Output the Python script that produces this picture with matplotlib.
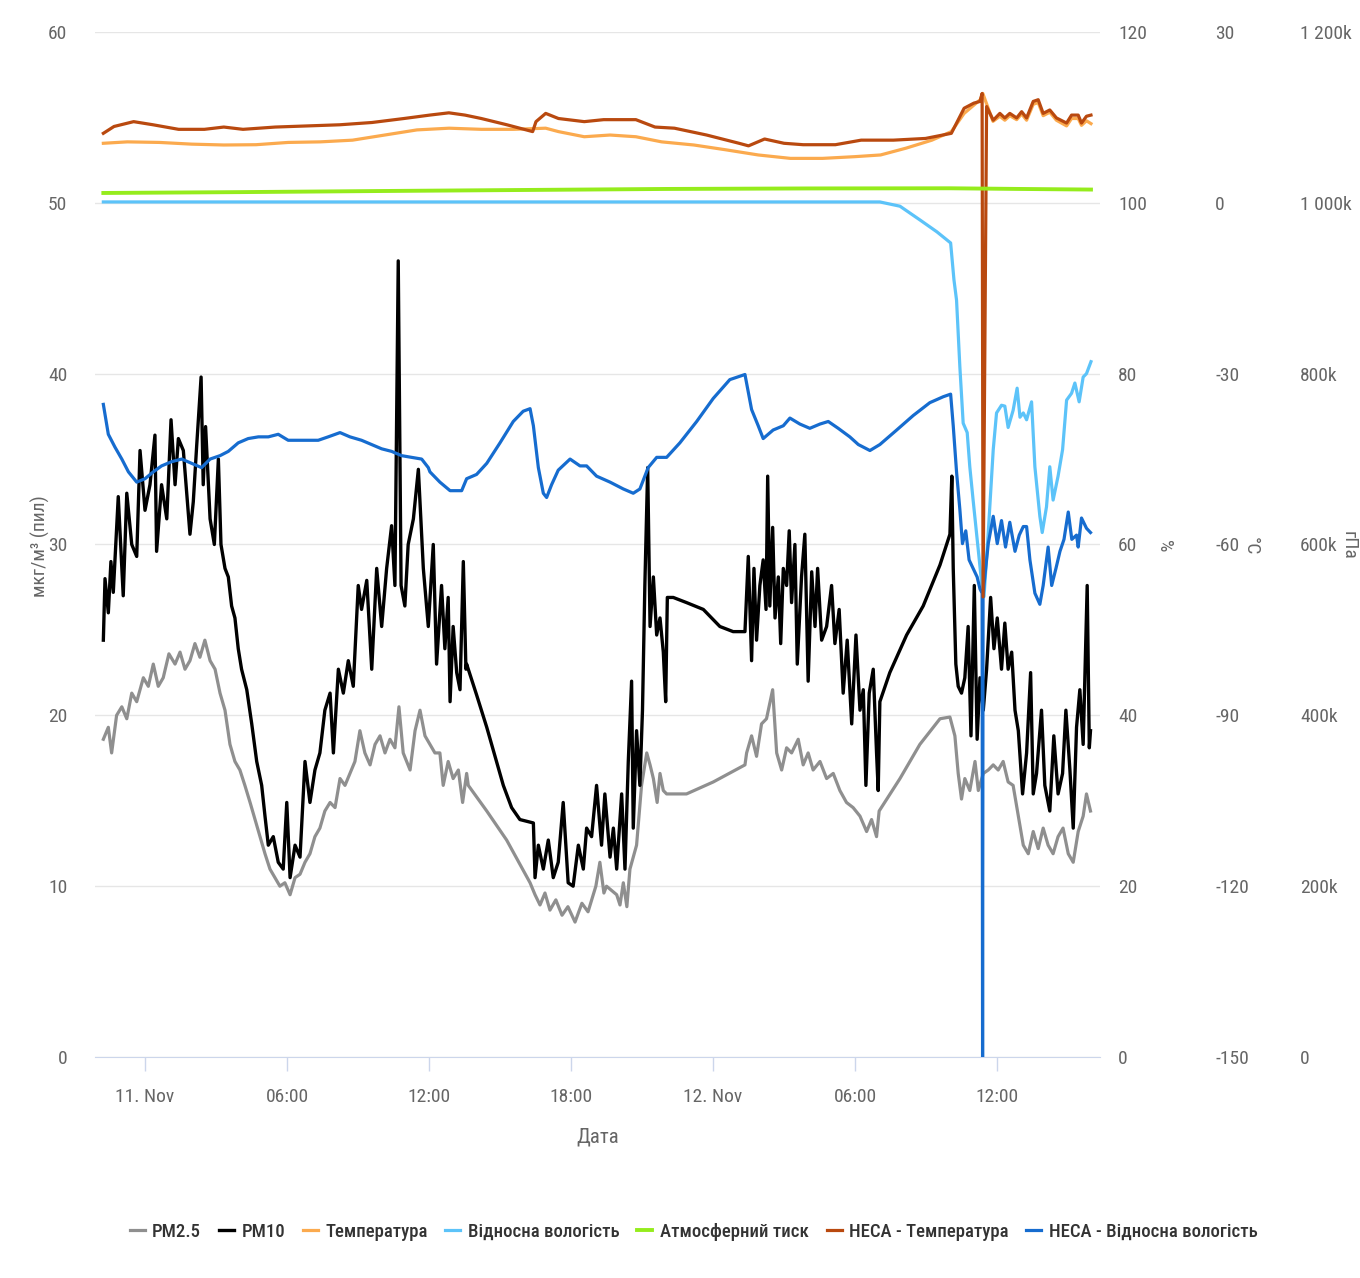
import matplotlib
matplotlib.use("Agg")
import matplotlib.pyplot as plt

plt.rcParams['font.family'] = ['Roboto Condensed', 'Roboto', 'DejaVu Sans']
plt.rcParams['axes.unicode_minus'] = False

# hours since 11 Nov 00:00
pm10_hours = [-1.76, -1.69, -1.55, -1.44, -1.34, -1.13, -0.92, -0.77, -0.56, -0.35, -0.21, 0.0, 0.21, 0.42, 0.49,
              0.70, 0.92, 1.10, 1.27, 1.41, 1.62, 1.90, 2.04, 2.18, 2.37, 2.46, 2.56, 2.75, 2.93, 3.10, 3.21, 3.38,
              3.52, 3.66, 3.80, 3.94, 4.08, 4.30, 4.51, 4.72, 4.93, 5.07, 5.21, 5.42, 5.63, 5.84, 5.99, 6.13, 6.34,
              6.55, 6.76, 6.97, 7.18, 7.39, 7.60, 7.82, 7.96, 8.17, 8.38, 8.59, 8.80, 9.01, 9.15, 9.37, 9.58, 9.79,
              10.00, 10.21, 10.42, 10.56, 10.70, 10.82, 10.98, 11.12, 11.34, 11.55, 11.76, 11.97, 12.18, 12.32,
              12.53, 12.67, 12.81, 12.89, 13.02, 13.17, 13.31, 13.45, 13.56, 13.59, 14.01, 14.44, 14.79, 15.14,
              15.49, 15.84, 16.41, 16.48, 16.62, 16.83, 17.04, 17.25, 17.46, 17.67, 17.88, 18.09, 18.31, 18.52,
              18.66, 18.87, 19.08, 19.29, 19.43, 19.65, 19.79, 19.93, 20.14, 20.28, 20.42, 20.56, 20.63, 20.77,
              20.91, 21.02, 21.12, 21.24, 21.34, 21.48, 21.62, 21.76, 21.90, 22.00, 22.07, 22.32, 22.88, 23.59,
              24.29, 24.85, 25.35, 25.49, 25.63, 25.73, 25.84, 25.98, 26.12, 26.24, 26.31, 26.40, 26.52, 26.62,
              26.76, 26.86, 26.97, 27.11, 27.22, 27.32, 27.46, 27.56, 27.74, 27.88, 28.02, 28.17, 28.31, 28.42,
              28.59, 28.80, 29.01, 29.15, 29.33, 29.50, 29.67, 29.86, 30.04, 30.21, 30.35, 30.46, 30.60, 30.77,
              30.91, 30.98, 31.05, 31.47, 32.18, 32.88, 33.59, 34.01, 34.09, 34.15, 34.26, 34.36, 34.50, 34.64,
              34.78, 34.90, 35.04, 35.16, 35.28, 35.42, 35.56, 35.73, 35.87, 36.01, 36.19, 36.33, 36.47, 36.62,
              36.76, 36.90, 37.08, 37.25, 37.42, 37.53, 37.67, 37.88, 38.02, 38.23, 38.40, 38.58, 38.77, 38.91,
              39.08, 39.22, 39.36, 39.50, 39.64, 39.81, 39.90, 39.95]
pm10 = [24.4, 28.0, 26.0, 29.0, 27.2, 32.8, 27.0, 33.0, 30.0, 29.3, 35.5, 32.0, 33.5, 36.4, 29.6,
        33.5, 31.5, 37.3, 33.5, 36.2, 35.5, 30.6, 32.5, 35.7, 39.8, 33.5, 36.9, 31.5, 30.0, 35.0, 30.0, 28.6,
        28.1, 26.4, 25.7, 23.9, 22.7, 21.5, 19.5, 17.3, 15.9, 14.1, 12.4, 12.9, 11.4, 11.0, 14.9, 10.5, 12.4,
        11.7, 17.3, 14.9, 16.8, 17.8, 20.3, 21.3, 17.8, 22.7, 21.3, 23.2, 21.7, 27.6, 26.2, 27.9, 22.7, 28.6,
        25.2, 28.6, 31.1, 27.6, 46.6, 27.6, 26.4, 30.0, 31.5, 34.4, 28.6, 25.2, 30.0, 23.0,
        27.6, 23.9, 26.9, 20.8, 25.2, 22.5, 21.5, 29.0, 22.7, 23.0, 21.2, 19.3, 17.6, 15.9,
        14.6, 13.9, 13.7, 10.5, 12.4, 11.0, 12.7, 10.5, 11.4, 14.9, 10.2, 10.0, 12.4, 11.0,
        13.4, 12.9, 15.9, 12.4, 15.4, 11.7, 13.4, 11.0, 15.4, 11.0, 17.3, 22.0, 13.4, 19.1,
        15.9, 20.3, 27.6, 34.5, 25.2, 28.1, 24.7, 25.7, 23.7, 20.8, 26.9, 26.9, 26.6, 26.2,
        25.2, 24.9, 24.9, 29.3, 23.2, 28.6, 24.4, 27.6, 29.1, 26.2, 34.0, 26.4, 31.0, 25.7,
        28.1, 24.2, 28.6, 27.6, 30.8, 26.6, 30.0, 23.0, 28.1, 30.6, 22.0, 28.4, 25.2, 28.6,
        24.4, 25.2, 27.6, 24.2, 26.2, 21.3, 24.4, 19.5, 24.7, 20.3, 21.5, 15.9, 21.3, 22.7,
        17.8, 15.6, 20.8, 22.5, 24.7, 26.4, 28.8, 30.6, 34.0, 28.6, 23.0, 21.7, 21.3, 22.2,
        25.2, 18.8, 27.6, 18.6, 22.2, 20.3, 22.7, 26.9, 23.9, 25.7, 22.7, 25.4, 22.7, 23.7,
        20.3, 19.1, 15.4, 17.8, 22.5, 15.4, 16.6, 20.3, 15.9, 14.4, 18.8, 15.4, 16.6, 20.3,
        16.8, 13.4, 19.3, 21.5, 18.3, 27.6, 18.1, 19.1]

pm25_hours = [-1.76, -1.55, -1.41, -1.20, -0.98, -0.77, -0.56, -0.35, -0.07, 0.14, 0.35, 0.56, 0.77, 1.01, 1.27,
              1.48, 1.69, 1.90, 2.11, 2.32, 2.53, 2.75, 2.96, 3.17, 3.38, 3.59, 3.80, 4.01, 4.22, 4.44, 4.65,
              4.86, 5.07, 5.28, 5.49, 5.70, 5.91, 6.13, 6.34, 6.55, 6.76, 6.97, 7.18, 7.39, 7.60, 7.82, 8.03,
              8.24, 8.45, 8.66, 8.87, 9.08, 9.29, 9.51, 9.72, 9.93, 10.14, 10.35, 10.56, 10.73, 10.91, 11.20,
              11.41, 11.62, 11.83, 12.04, 12.25, 12.46, 12.60, 12.81, 13.02, 13.24, 13.42, 13.59, 13.66, 14.44,
              15.28, 16.27, 16.48, 16.69, 16.90, 17.11, 17.36, 17.62, 17.87, 18.17, 18.46, 18.72, 19.05, 19.22,
              19.39, 19.50, 19.93, 20.07, 20.21, 20.36, 20.49, 20.77, 20.98, 21.20, 21.34, 21.48, 21.64, 21.76,
              21.90, 22.04, 22.88, 24.01, 25.35, 25.42, 25.63, 25.84, 26.05, 26.26, 26.52, 26.69, 26.90, 27.11,
              27.32, 27.60, 27.81, 28.02, 28.23, 28.52, 28.80, 29.08, 29.36, 29.64, 29.92, 30.21, 30.49, 30.70,
              30.91, 31.02, 31.90, 32.74, 33.59, 34.01, 34.22, 34.36, 34.50, 34.64, 34.85, 35.07, 35.21, 35.42,
              35.63, 35.84, 36.05, 36.26, 36.47, 36.68, 36.90, 37.11, 37.32, 37.53, 37.74, 37.95, 38.16, 38.37,
              38.58, 38.79, 39.01, 39.22, 39.43, 39.64, 39.78, 39.95]
pm25 = [18.6, 19.3, 17.8, 20.0, 20.5, 19.8, 21.3, 20.8, 22.2, 21.7, 23.0, 21.7, 22.2, 23.6, 23.0,
        23.7, 22.7, 23.2, 24.2, 23.4, 24.4, 23.2, 22.7, 21.3, 20.3, 18.3, 17.3, 16.8, 15.9, 14.9, 13.9,
        12.9, 11.9, 11.0, 10.5, 10.0, 10.2, 9.5, 10.5, 10.7, 11.4, 11.9, 12.9, 13.4, 14.4, 14.9, 14.6,
        16.3, 15.9, 16.6, 17.3, 19.1, 17.8, 17.1, 18.3, 18.8, 17.8, 18.6, 18.1, 20.5, 17.8, 16.8,
        19.1, 20.3, 18.8, 18.3, 17.8, 17.8, 15.9, 17.3, 16.3, 16.8, 14.9, 16.6, 15.9, 14.4,
        12.7, 10.2, 9.5, 8.9, 9.6, 8.6, 9.2, 8.3, 8.8, 7.9, 9.0, 8.5, 10.0, 11.4,
        9.6, 10.0, 9.5, 8.9, 10.2, 8.8, 11.0, 12.4, 15.9, 17.8, 17.1, 16.3, 14.9, 16.6,
        15.6, 15.4, 15.4, 16.1, 17.1, 17.8, 18.8, 17.6, 19.5, 19.8, 21.5, 17.8, 16.8, 18.1,
        17.8, 18.6, 17.1, 17.8, 16.8, 17.3, 16.3, 16.6, 15.6, 14.9, 14.6, 14.1, 13.2, 13.9,
        12.9, 14.4, 16.3, 18.3, 19.8, 19.9, 18.8, 16.6, 15.1, 16.3, 15.6, 17.3, 15.6, 16.6,
        16.8, 17.1, 16.8, 17.3, 16.1, 15.9, 14.1, 12.4, 11.9, 13.2, 12.2, 13.4, 12.4, 11.9,
        12.9, 13.4, 11.9, 11.4, 13.2, 14.1, 15.4, 14.4]

temp_hours = [-1.76, -0.75, 0.61, 1.97, 3.33, 4.69, 6.05, 7.41, 8.77, 10.13, 11.49, 12.85, 14.21, 15.57, 16.93,
              17.47, 18.56, 19.65, 20.74, 21.83, 23.19, 24.55, 25.91, 27.27, 28.63, 29.99, 31.08, 32.16, 33.25,
              34.07, 34.61, 35.29, 35.40, 35.83, 36.12, 36.33, 36.54, 36.83, 37.04, 37.25, 37.53, 37.74, 37.95,
              38.23, 38.51, 38.94, 39.15, 39.43, 39.57, 39.78, 39.97]
temp = [10.45, 10.7, 10.6, 10.3, 10.15, 10.2, 10.6, 10.7, 11.0, 11.9, 12.8, 13.1, 12.9, 12.9, 13.1,
        12.5, 11.6, 11.9, 11.6, 10.7, 10.15, 9.3, 8.4, 7.8, 7.8, 8.1, 8.4, 9.6, 11.0,
        12.5, 15.7, 18.1, 19.2, 14.3, 15.2, 14.5, 15.3, 14.6, 15.6, 14.5, 17.3, 17.6, 15.3,
        15.9, 14.5, 13.5, 14.8, 14.8, 13.6, 14.4, 13.9]

heca_temp_hours = [-1.76, -1.31, -0.48, 0.34, 1.42, 2.51, 3.33, 4.14, 5.50, 6.87, 8.23, 9.59, 10.94, 12.03, 12.84,
                   13.52, 14.21, 15.29, 16.38, 16.52, 16.93, 17.47, 18.56, 19.38, 20.74, 21.55, 22.37, 23.73,
                   25.10, 25.50, 26.18, 27.00, 27.81, 29.17, 30.26, 31.62, 32.98, 34.07, 34.61, 35.02, 35.28,
                   35.37, 35.41, 35.56, 35.84, 36.12, 36.33, 36.54, 36.83, 37.04, 37.25, 37.53, 37.74, 37.95,
                   38.23, 38.51, 38.94, 39.15, 39.43, 39.57, 39.78, 39.97]
heca_temp = [12.2, 13.4, 14.25, 13.7, 12.9, 12.9, 13.3, 12.9, 13.3, 13.5, 13.7, 14.1, 14.8, 15.4, 15.8,
             15.4, 14.8, 13.7, 12.5, 14.25, 15.7, 14.8, 14.25, 14.6, 14.6, 13.3, 13.1, 11.9,
             10.45, 10.0, 11.2, 10.45, 10.2, 10.2, 11.0, 11.0, 11.3, 12.2, 16.6, 17.5, 17.8,
             19.2, -69.2, 16.9, 14.5, 15.7, 14.9, 15.7, 14.9, 16.0, 14.9, 17.8, 18.1, 15.7,
             16.3, 14.9, 14.0, 15.4, 15.4, 14.0, 15.2, 15.4]

rh_hours = [-1.76, 10.0, 20.0, 31.05, 31.90, 32.74, 33.46, 34.04, 34.18, 34.29, 34.43, 34.57, 34.74, 34.85,
            34.99, 35.21, 35.35, 35.45, 35.63, 35.84, 35.98, 36.19, 36.33, 36.47, 36.68, 36.85, 36.97, 37.11,
            37.25, 37.46, 37.60, 37.81, 37.91, 38.09, 38.23, 38.37, 38.58, 38.77, 38.94, 39.15, 39.29, 39.47,
            39.64, 39.78, 39.97]
rh = [100.1, 100.1, 100.1, 100.1, 99.6, 98.0, 96.6, 95.3, 91.0, 88.6, 80.8, 74.2, 73.1, 69.1,
      65.2, 59.3, 55.5, 53.9, 61.4, 71.1, 75.4, 76.3, 76.2, 73.7, 75.7, 78.3, 74.9, 75.4,
      74.6, 76.7, 69.1, 63.3, 61.4, 64.4, 69.1, 65.2, 68.0, 71.1, 76.9, 77.7, 78.9, 76.7,
      79.6, 80.0, 81.4]

heca_rh_hours = [-1.76, -1.55, -1.27, -0.98, -0.70, -0.35, 0.0, 0.35, 0.70, 1.13, 1.55, 1.97, 2.39, 2.75, 3.17,
                 3.52, 3.94, 4.36, 4.79, 5.21, 5.63, 6.05, 6.48, 6.90, 7.32, 7.74, 8.24, 8.66, 9.15, 9.58,
                 10.0, 10.42, 10.84, 11.27, 11.69, 11.97, 12.04, 12.46, 12.89, 13.38, 13.59, 14.01, 14.44,
                 15.0, 15.56, 15.98, 16.27, 16.41, 16.62, 16.83, 16.97, 17.18, 17.46, 17.96, 18.38, 18.66,
                 19.08, 19.65, 20.21, 20.63, 20.91, 21.26, 21.62, 22.04, 22.60, 23.31, 24.01, 24.71, 25.35,
                 25.63, 25.91, 26.12, 26.54, 26.97, 27.25, 27.67, 28.09, 28.52, 28.87, 29.29, 29.78, 30.14,
                 30.63, 31.05, 31.76, 32.46, 33.16, 33.73, 34.04, 34.15, 34.29, 34.43, 34.54, 34.68, 34.82,
                 34.99, 35.16, 35.28, 35.37, 35.39, 35.41, 35.45, 35.63, 35.84, 36.01, 36.19, 36.36, 36.54,
                 36.76, 36.94, 37.11, 37.25, 37.39, 37.60, 37.81, 37.95, 38.16, 38.31, 38.49, 38.66, 38.83,
                 39.01, 39.16, 39.36, 39.43, 39.57, 39.78, 39.95]
heca_rh = [76.4, 72.9, 71.4, 70.0, 68.5, 67.3, 67.7, 68.5, 69.2, 69.7, 70.0, 69.5, 69.0, 70.0, 70.4,
           70.9, 71.9, 72.4, 72.6, 72.6, 72.9, 72.2, 72.2, 72.2, 72.2, 72.6, 73.1, 72.6, 72.2, 71.7,
           71.2, 70.9, 70.4, 70.2, 70.0, 69.0, 68.5, 67.3, 66.3, 66.3, 67.7, 68.2, 69.5,
           71.9, 74.4, 75.6, 75.9, 73.9, 69.0, 66.0, 65.5, 67.0, 68.7, 70.0, 69.2, 69.2,
           68.0, 67.3, 66.5, 66.0, 66.5, 69.0, 70.2, 70.2, 71.9, 74.4, 77.1, 79.3, 79.9,
           75.8, 73.9, 72.4, 73.4, 73.9, 74.8, 74.1, 73.6, 74.1, 74.4, 73.6, 72.6, 71.7,
           71.0, 71.7, 73.4, 75.1, 76.6, 77.3, 77.6, 73.9, 68.5, 64.1, 60.1, 61.6, 58.2,
           57.2, 56.2, 54.8, 54.3, 0.0, 53.8, 55.3, 60.1, 63.3, 60.1, 62.8, 59.7, 62.6,
           59.2, 61.1, 62.1, 62.1, 58.2, 54.3, 53.0, 55.2, 59.7, 55.2, 57.2, 59.2, 60.6,
           63.8, 60.6, 61.1, 59.7, 63.1, 61.9, 61.4]

pres_hours = [-1.76, 4.0, 10.0, 16.0, 22.0, 28.0, 34.0, 37.0, 39.97]
pres = [1011500, 1012500, 1013800, 1015000, 1016200, 1016800, 1017000, 1016200, 1015500]

x_ticks = [0, 6, 12, 18, 24, 30, 36]
x_labels = ['11. Nov', '06:00', '12:00', '18:00', '12. Nov', '06:00', '12:00']

pm_ticks = [0, 10, 20, 30, 40, 50, 60]
rh_ticks = [0, 20, 40, 60, 80, 100, 120]
t_ticks = [-150, -120, -90, -60, -30, 0, 30]
p_ticks = [0, 200000, 400000, 600000, 800000, 1000000, 1200000]
p_labels = ['0', '200k', '400k', '600k', '800k', '1 000k', '1 200k']

c_pm25 = '#8f8f8f'
c_pm10 = '#000000'
c_temp = '#fbaa4e'
c_rh = '#5cc3f9'
c_pres = '#95ec1c'
c_heca_t = '#b9490f'
c_heca_rh = '#166ccf'
tick_col = '#666666'
fs = 14

fig = plt.figure(figsize=(13.6, 12.78), dpi=100)
ax = fig.add_axes([0.0699, 0.1729, 0.7389, 0.8021])
ax_rh = ax.twinx()
ax_t = ax.twinx()
ax_p = ax.twinx()

lw = 2.0
l1, = ax.plot(pm25_hours, pm25, color=c_pm25, lw=lw + 0.3, label='PM2.5')
l2, = ax.plot(pm10_hours, pm10, color=c_pm10, lw=lw + 0.4, label='PM10')
l3, = ax_t.plot(temp_hours, temp, color=c_temp, lw=lw + 0.3, label='Температура')
l4, = ax_rh.plot(rh_hours, rh, color=c_rh, lw=lw + 0.3, label='Відносна вологість')
l5, = ax_p.plot(pres_hours, pres, color=c_pres, lw=lw + 0.8, label='Атмосферний тиск')
l6, = ax_t.plot(heca_temp_hours, heca_temp, color=c_heca_t, lw=lw + 0.3, label='HECA - Температура')
l7, = ax_rh.plot(heca_rh_hours, heca_rh, color=c_heca_rh, lw=lw + 0.3, label='HECA - Відносна вологість')

ax.set_xlim(-2.11, 40.35)
ax.set_ylim(0, 60)
ax_rh.set_ylim(0, 120)
ax_t.set_ylim(-150, 30)
ax_p.set_ylim(0, 1200000)

ax.set_xticks(x_ticks)
ax.set_xticklabels(x_labels)
ax.tick_params(axis='x', length=10, width=1, color='#ccd6eb', pad=12, labelsize=fs, labelcolor=tick_col)
ax.set_yticks(pm_ticks)
ax.tick_params(axis='y', length=0, pad=20, labelsize=fs, labelcolor=tick_col)
ax.grid(axis='y', color='#e6e6e6', lw=1)
ax.set_axisbelow(True)

ax_rh.set_yticks(rh_ticks)
ax_t.set_yticks(t_ticks)
ax_p.set_yticks(p_ticks)
ax_p.set_yticklabels(p_labels)
for a, off in [(ax_rh, 0), (ax_t, 70), (ax_p, 131)]:
    a.spines['right'].set_position(('outward', off))
    a.tick_params(axis='y', length=0, pad=13, labelsize=fs, labelcolor=tick_col)

for a in [ax, ax_rh, ax_t, ax_p]:
    for s in ['top', 'left', 'right']:
        a.spines[s].set_visible(False)
ax.spines['bottom'].set_color('#ccd6eb')
for a in [ax_rh, ax_t, ax_p]:
    a.spines['bottom'].set_visible(False)

ax.set_xlabel('Дата', fontsize=fs + 1, color=tick_col, labelpad=16)
fig.text(0.030, 0.573, 'мкг/м³ (пил)', rotation=90, ha='center', va='center', fontsize=fs, color=tick_col)
fig.text(0.856, 0.573, '%', rotation=270, ha='center', va='center', fontsize=fs, color=tick_col)
fig.text(0.920, 0.573, '°C', rotation=270, ha='center', va='center', fontsize=fs, color=tick_col)
fig.text(0.992, 0.573, 'гПа', rotation=270, ha='center', va='center', fontsize=fs, color=tick_col)

fig.legend(handles=[l1, l2, l3, l4, l5, l6, l7], loc='center', bbox_to_anchor=(0.51, 0.036), ncol=7,
           frameon=False, handlelength=0.8, handletextpad=0.4, columnspacing=0.95,
           labelcolor='#333333', prop={'size': 13.5, 'weight': 'medium'})

fig.savefig('out.png', dpi=100)
